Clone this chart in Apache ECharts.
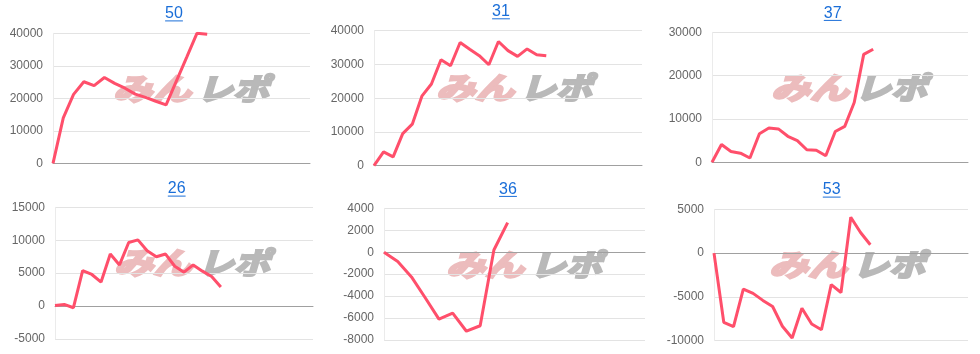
<!DOCTYPE html>
<html><head><meta charset="utf-8">
<script src="https://cdn.jsdelivr.net/npm/echarts@6/dist/echarts.min.js"></script>
<style>html,body{margin:0;padding:0;background:#fff}#c{width:980px;height:354px}</style>
</head><body><div id="c"></div>
<script>
// ---- data ----
const titles = ['50', '31', '37', '26', '36', '53'];
const slotCounts = [26, 29, 28, 29, 20, 27];
const s50 = [0, 14000, 21200, 25100, 23900, 26400, 24600, 23100, 21300, 20300, 19100, 18000, 25300, 32600, 40000, 39700];
const s31 = [0, 4100, 2600, 9500, 12300, 20600, 24200, 31400, 29600, 36500, 34500, 32600, 29900, 36800, 34100, 32400, 34600, 32900, 32600];
const s37 = [0, 4100, 2500, 2100, 1000, 6600, 7900, 7700, 6000, 5000, 2900, 2800, 1500, 7100, 8300, 13800, 24900, 26100];
const s26 = [100, 250, -250, 5400, 4800, 3650, 7900, 6250, 9650, 10050, 8400, 7500, 7900, 6050, 5150, 6250, 5300, 4500, 2900];
const s36 = [0, -850, -2250, -4150, -6100, -5550, -7200, -6700, 200, 2700];
const s53 = [0, -7900, -8400, -4100, -4600, -5400, -6100, -8350, -9700, -6300, -8100, -8750, -3600, -4500, 4100, 2350, 950];
const seriesList = [s50, s31, s37, s26, s36, s53];
const yMins = [0, 0, 0, -5000, -8000, -10000];
const yMaxs = [40000, 40000, 30000, 15000, 4000, 5000];
const yIntervals = [10000, 10000, 10000, 5000, 2000, 5000];
const watermarkA = 'みん';
const watermarkB = 'レポ';

// ---- layout ----
const grids = [
  {left: 53, top: 33.3, width: 257, height: 130},
  {left: 374, top: 30.7, width: 268, height: 135},
  {left: 712, top: 32.3, width: 256, height: 130},
  {left: 55, top: 207.3, width: 258, height: 131.7},
  {left: 384, top: 208.3, width: 261, height: 131.7},
  {left: 714, top: 209.3, width: 254, height: 131.4}
];
const titlePos = [[174, 13.8], [501, 11.7], [832.7, 13.3], [176.7, 189], [508, 189.3], [831.7, 190]];
const wmPos = [[112, 89], [435, 88], [770, 87.5], [113, 263], [445, 265], [768, 265]];

const LINE = '#ff4f6b';
const TITLE_FONT = '16px "Liberation Sans", Arial, sans-serif';
const WM_FONT = 'italic bold 30px "Noto Sans CJK JP"';
const ctx = document.createElement('canvas').getContext('2d');
ctx.font = TITLE_FONT;

const graphics = [];
titles.forEach((t, i) => {
  const [cx, cy] = titlePos[i];
  const w = ctx.measureText(t).width;
  graphics.push({type: 'text', x: cx, y: cy, z: 10,
    style: {text: t, font: TITLE_FONT, fill: '#1a6ed8', textAlign: 'center', textVerticalAlign: 'middle'}});
  graphics.push({type: 'rect', shape: {x: cx - w / 2, y: cy + 6.6, width: w, height: 1}, z: 10,
    style: {fill: '#1a6ed8'}});
});
wmPos.forEach(([x, y]) => {
  graphics.push({type: 'text', x: x + 1, y: y, scaleX: 1.3, z: 0,
    style: {text: watermarkA, font: WM_FONT, fill: '#ecbcbd', stroke: '#ecbcbd', lineWidth: 2.5,
      textAlign: 'left', textVerticalAlign: 'middle'}});
  graphics.push({type: 'text', x: x + 85, y: y, scaleX: 1.2, z: 0,
    style: {text: watermarkB, font: WM_FONT, fill: '#b9b9b9', stroke: '#b9b9b9', lineWidth: 2.5,
      textAlign: 'left', textVerticalAlign: 'middle'}});
});

const option = {
  animation: false,
  grid: grids.map(g => Object.assign({containLabel: false}, g)),
  xAxis: grids.map((g, i) => ({
    type: 'category', gridIndex: i, boundaryGap: false,
    data: Array.from({length: slotCounts[i]}, (_, k) => String(k + 1)),
    axisLabel: {show: false}, axisTick: {show: false},
    axisLine: {show: true, onZero: true, lineStyle: {color: '#a0a0a0', width: 1}},
    splitLine: {show: false}
  })),
  yAxis: grids.map((g, i) => ({
    type: 'value', gridIndex: i, min: yMins[i], max: yMaxs[i], interval: yIntervals[i],
    axisLine: {show: true, lineStyle: {color: '#ebebeb'}},
    axisTick: {show: false},
    axisLabel: {color: '#666', fontSize: 12, fontFamily: '"Liberation Sans", Arial, sans-serif', margin: 10,
      formatter: v => String(v)},
    splitLine: {lineStyle: {color: '#e3e3e3'}}
  })),
  series: seriesList.map((d, i) => ({
    type: 'line', xAxisIndex: i, yAxisIndex: i, data: d, showSymbol: false, symbol: 'none',
    lineStyle: {color: LINE, width: 3}, itemStyle: {color: LINE}, z: 5
  })),
  graphic: graphics
};
const chart = echarts.init(document.getElementById('c'), null, {renderer: 'canvas'});
chart.setOption(option);
</script></body></html>
